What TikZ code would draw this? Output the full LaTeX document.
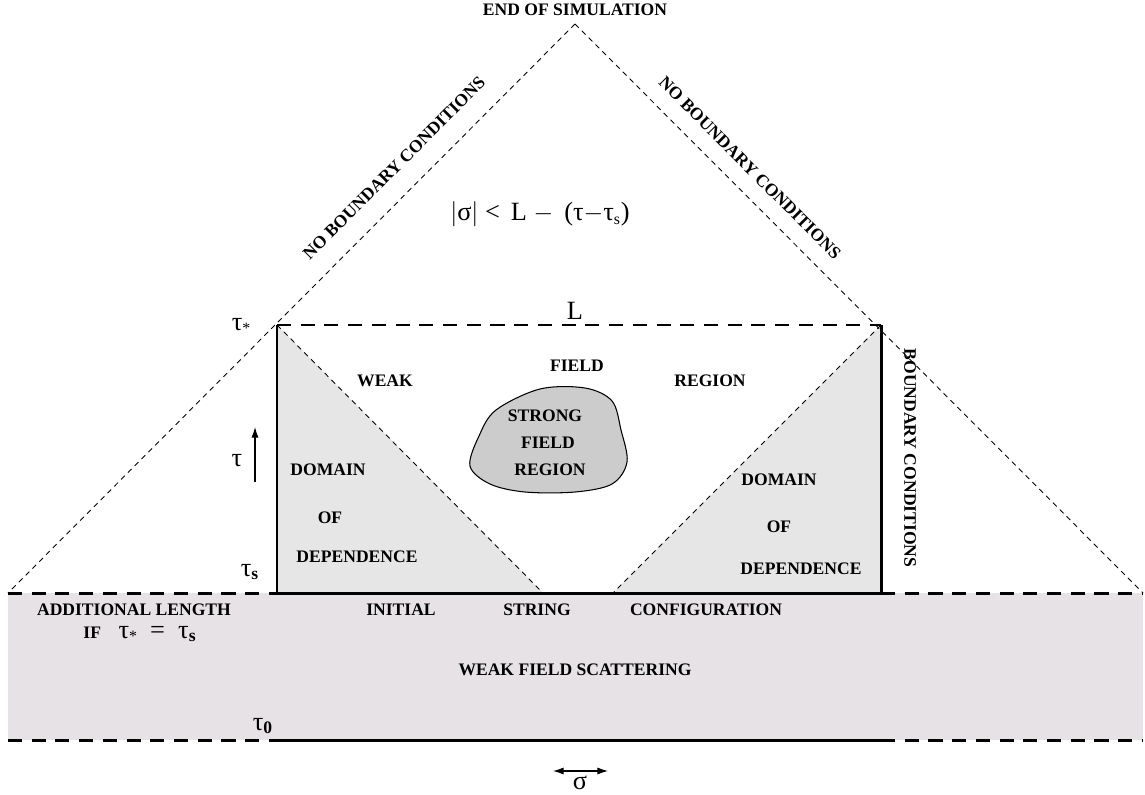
\documentclass[tikz,border=0pt]{standalone}
\usepackage{fontspec}
\setmainfont{Liberation Serif}
\usepackage{tikz}
\usetikzlibrary{arrows.meta}
\tikzset{lab/.style={font=\fontsize{10}{12}\selectfont\bfseries, inner sep=1pt},
  greek/.style={font=\fontsize{15}{17}\selectfont, inner sep=1pt},
  cone/.style={black, line width=0.5pt, dash pattern=on 3pt off 2.5pt},
  wall/.style={black, line width=1.7pt},
  edge/.style={black, line width=1.7pt, dash pattern=on 8pt off 5.5pt}}
\definecolor{domgray}{RGB}{230,230,230}
\definecolor{bandgray}{RGB}{230,226,230}
\definecolor{blobgray}{RGB}{204,204,204}
\newcommand{\subs}[1]{\textsubscript{\bfseries\fontsize{10}{10}\selectfont #1}}
\newcommand{\substar}{\raisebox{-2pt}{\fontsize{9}{9}\selectfont *}}

\begin{document}
\begin{tikzpicture}[x=0.02cm, y=-0.02cm]
\useasboundingbox (0,0) rectangle (1145,794);
% points of the picture
\coordinate (apex) at (575,24);
\coordinate (ll) at (8,593);
\coordinate (rr) at (1143,593);
\coordinate (tl) at (277,325);
\coordinate (tr) at (881,325);
\coordinate (bl) at (277,593);
\coordinate (br) at (881,593);
\coordinate (cl) at (543,593);
\coordinate (cr) at (613,593);
% grey areas
\fill[bandgray] (8,593) rectangle (1143,740);
\fill[domgray] (tl) -- (bl) -- (cl) -- cycle;
\fill[domgray] (tr) -- (br) -- (cr) -- cycle;
\filldraw[fill=blobgray, draw=black, line width=0.6pt] plot[smooth cycle, tension=0.55] coordinates
 {(496,410) (540,389) (585,388) (612,401) (621,430) (627,462) (612,484) (575,492) (525,492) (490,484) (470,466) (479,436)};
% cones
\draw[cone] (apex) -- (ll);
\draw[cone] (apex) -- (rr);
\draw[cone] (tl) -- (cl);
\draw[cone] (tr) -- (cr);
% box
\draw[edge] (tl) -- (tr);
\draw[wall] (tl) -- (bl) -- (br) -- (tr);
\draw[edge] (ll) -- (bl);
\draw[edge] (br) -- (rr);
\draw[edge] (8,740) -- (277,740);
\draw[wall] (277,740) -- (881,740);
\draw[edge] (881,740) -- (1143,740);
% arrows
\coordinate (tauA) at (255,482);
\coordinate (tauB) at (255,427);
\draw[line width=0.6pt, -{Latex[length=6pt,width=4pt]}] (tauA) -- (tauB);
\coordinate (sigA) at (553,771);
\coordinate (sigB) at (608,771);
\draw[line width=0.6pt, {Latex[length=6pt,width=4pt]}-{Latex[length=6pt,width=4pt]}] (sigA) -- (sigB);
% labels
\node[lab] (end) at (575,10) {END OF SIMULATION};
\node[lab, rotate=45] (nbl) at (394,168) {NO BOUNDARY CONDITIONS};
\node[lab, rotate=-45] (nbr) at (750,168) {NO BOUNDARY CONDITIONS};
\node[lab, rotate=-90] (bc) at (910,458) {BOUNDARY CONDITIONS};
\node[greek] (ineq) at (540,214) {$|$σ$|$ < \,L $-$ \,(τ$-$τ\textsubscript{\fontsize{9}{9}\selectfont s})};
\node[greek] (ell) at (575,311) {L};
\node[greek] (taustar) at (241,326) {τ\substar};
\node[greek] (tau) at (237,461) {τ};
\node[greek] (taus) at (250,572) {τ\subs{s}};
\node[greek] (tau0) at (263,726) {τ\subs{0}};
\node[greek] (sigma) at (580,783) {σ};
\node[lab] (weak) at (385,381) {WEAK};
\node[lab] (field) at (577,366) {FIELD};
\node[lab] (region) at (710,381) {REGION};
\node[lab] (doml) at (328,470) {DOMAIN};
\node[lab] (ofl) at (330,518) {OF};
\node[lab] (depl) at (357,557) {DEPENDENCE};
\node[lab] (strong) at (545,416) {STRONG};
\node[lab] (sfield) at (548,443) {FIELD};
\node[lab] (sregion) at (550,470) {REGION};
\node[lab] (domr) at (779,480) {DOMAIN};
\node[lab] (ofr) at (779,527) {OF};
\node[lab] (depr) at (801,569) {DEPENDENCE};
\node[lab] (init) at (401,610) {INITIAL};
\node[lab] (string) at (537,610) {STRING};
\node[lab] (config) at (706,610) {CONFIGURATION};
\node[lab] (add) at (134,610) {ADDITIONAL LENGTH};
\node[lab] (iff) at (140,634) {IF\quad\fontsize{15}{17}\mdseries τ\substar\ \ =\ \ τ\subs{s}};
\node[lab] (scat) at (575,670) {WEAK FIELD SCATTERING};
\end{tikzpicture}
\end{document}
